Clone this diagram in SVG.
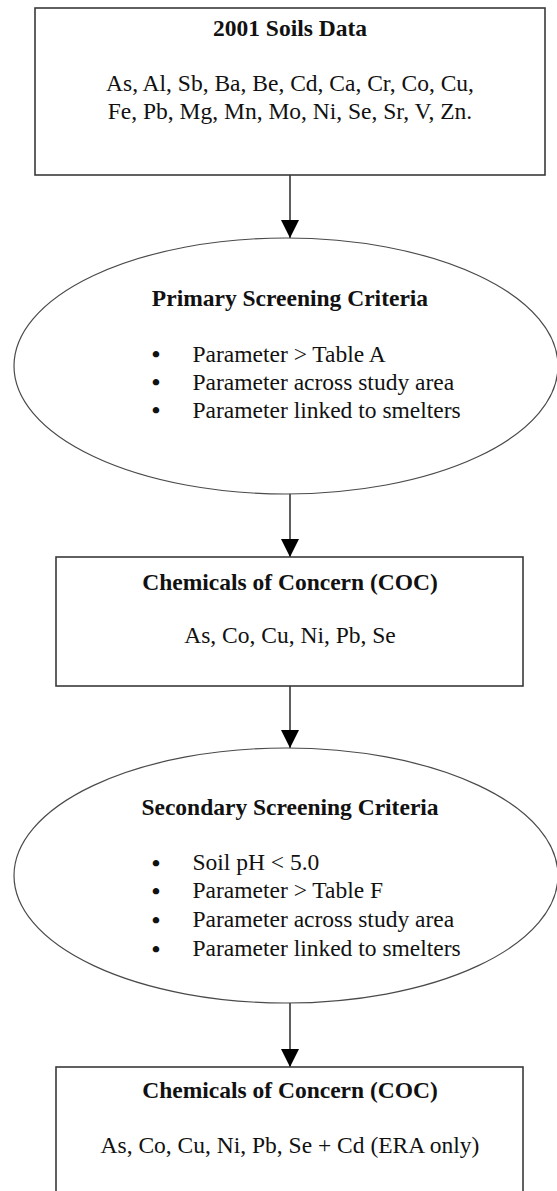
<svg xmlns="http://www.w3.org/2000/svg" width="557" height="1191" viewBox="0 0 557 1191">
<style>
.box{fill:#fff;stroke:#3a3a3a;stroke-width:1.6}
.ell{fill:#fff;stroke:#4a4a4a;stroke-width:1.2}
.t{font-family:"Liberation Serif","Times New Roman",serif;font-size:23.5px;fill:#111}
.b{font-weight:bold}
.c{text-anchor:middle}
.bl{font-family:"Liberation Serif","Times New Roman",serif;font-size:24px;font-weight:bold;fill:#111;text-anchor:middle}
.edge{stroke:#2a2a2a;stroke-width:1.5;fill:none}
</style>
<defs>
<marker id="arr" markerUnits="userSpaceOnUse" markerWidth="18" markerHeight="18" refX="18" refY="9" orient="auto">
<path d="M0,0 L18,9 L0,18 z" fill="#000"/>
</marker>
</defs>
<rect width="557" height="1191" fill="#fff"/>
<g id="connectors">
<line class="edge" x1="290" y1="175" x2="290" y2="238" marker-end="url(#arr)"/>
<line class="edge" x1="290" y1="494" x2="290" y2="557" marker-end="url(#arr)"/>
<line class="edge" x1="290" y1="686" x2="290" y2="748" marker-end="url(#arr)"/>
<line class="edge" x1="290" y1="1003" x2="290" y2="1067" marker-end="url(#arr)"/>
</g>
<g id="soils-data">
<rect class="box" x="35" y="8" width="510" height="167"/>
<text class="t b c" x="290" y="36">2001 Soils Data</text>
<text class="t c" x="290" y="91">As, Al, Sb, Ba, Be, Cd, Ca, Cr, Co, Cu,</text>
<text class="t c" x="290" y="118.5">Fe, Pb, Mg, Mn, Mo, Ni, Se, Sr, V, Zn.</text>
</g>
<g id="primary-screening">
<ellipse class="ell" cx="286" cy="366" rx="272" ry="128"/>
<text class="t b c" x="290" y="305.5">Primary Screening Criteria</text>
<text class="bl" x="156" y="362">•</text><text class="t" x="192.5" y="361.5">Parameter &gt; Table A</text>
<text class="bl" x="156" y="390">•</text><text class="t" x="192.5" y="389.5">Parameter across study area</text>
<text class="bl" x="156" y="418">•</text><text class="t" x="192.5" y="417.5">Parameter linked to smelters</text>
</g>
<g id="coc-1">
<rect class="box" x="56" y="557" width="467" height="129"/>
<text class="t b c" x="290" y="590">Chemicals of Concern (COC)</text>
<text class="t c" x="290" y="643">As, Co, Cu, Ni, Pb, Se</text>
</g>
<g id="secondary-screening">
<ellipse class="ell" cx="286" cy="875.5" rx="272" ry="127.5"/>
<text class="t b c" x="290" y="815">Secondary Screening Criteria</text>
<text class="bl" x="156" y="870.5">•</text><text class="t" x="192.5" y="870">Soil pH &lt; 5.0</text>
<text class="bl" x="156" y="898.5">•</text><text class="t" x="192.5" y="898">Parameter &gt; Table F</text>
<text class="bl" x="156" y="927.5">•</text><text class="t" x="192.5" y="927">Parameter across study area</text>
<text class="bl" x="156" y="956.5">•</text><text class="t" x="192.5" y="956">Parameter linked to smelters</text>
</g>
<g id="coc-2">
<rect class="box" x="56" y="1067" width="467" height="160"/>
<text class="t b c" x="290" y="1098">Chemicals of Concern (COC)</text>
<text class="t c" x="290" y="1153">As, Co, Cu, Ni, Pb, Se + Cd (ERA only)</text>
</g>
</svg>
